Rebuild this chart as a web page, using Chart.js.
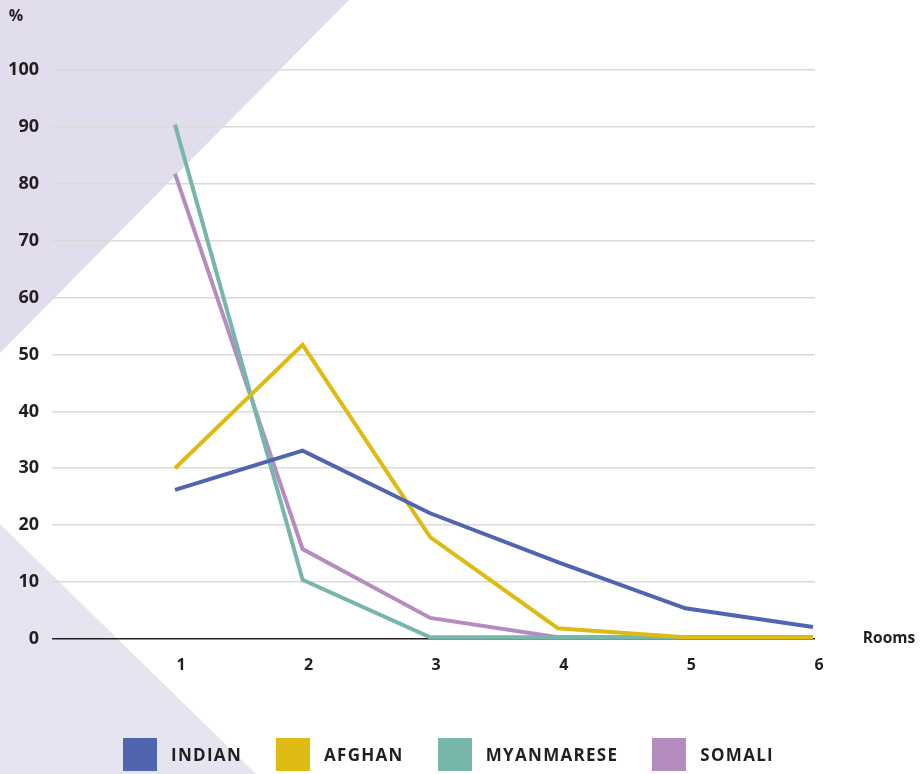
<!DOCTYPE html>
<html>
<head>
<meta charset="utf-8">
<script src="https://cdn.jsdelivr.net/npm/chart.js@4.4.0/dist/chart.umd.min.js"></script>
<style>
  html, body { margin: 0; padding: 0; background: #fff; }
  #wrap { position: relative; width: 924px; height: 774px; overflow: hidden; }
  canvas { position: absolute; left: 0; top: 0; }
  #legend { position: absolute; left: 123px; top: 738px; display: flex; gap: 34px; align-items: center; }
  .item { display: flex; align-items: center; }
  .box { width: 34px; height: 33px; margin-right: 14px; }
  .lbl { font-family: "Open Sans", sans-serif; font-weight: 700; font-size: 17px; letter-spacing: 1.3px; color: #231F20; }
</style>
</head>
<body>
<div id="wrap">
  <canvas id="c" width="924" height="774"></canvas>
  <div id="legend"></div>
</div>
<script>
const rooms = [1, 2, 3, 4, 5, 6];
const yTicks = [0, 10, 20, 30, 40, 50, 60, 70, 80, 90, 100];
const seriesNames = ["INDIAN", "AFGHAN", "MYANMARESE", "SOMALI"];
const seriesColors = ["#5064B0", "#DDBB12", "#77B6AB", "#B68BBF"];
const indian = [26.2, 33.1, 22.1, 13.5, 5.4, 2.1];
const afghan = [30.0, 51.7, 17.9, 1.9, 0.3, 0.3];
const myanmarese = [90.4, 10.4, 0.3, 0.3, 0.3, 0.3];
const somali = [81.8, 15.8, 3.7, 0.3, 0.3, 0.3];
const seriesValues = [indian, afghan, myanmarese, somali];

const FONT = '"Open Sans", sans-serif';
const TEXT = '#231F20';

const datasets = seriesNames.map((name, i) => ({
  label: name,
  data: rooms.map((r, j) => ({ x: r, y: seriesValues[i][j] })),
  borderColor: seriesColors[i],
  backgroundColor: seriesColors[i],
  borderWidth: 4,
  pointRadius: 0,
  tension: 0,
  fill: false
}));

const decor = {
  id: 'decor',
  beforeDraw(chart) {
    const ctx = chart.ctx;
    ctx.save();
    ctx.fillStyle = '#E1DDEC';
    ctx.beginPath();
    ctx.moveTo(0, 0); ctx.lineTo(349, 0); ctx.lineTo(0, 353); ctx.closePath(); ctx.fill();
    ctx.fillStyle = '#E7E4F1';
    ctx.beginPath();
    ctx.moveTo(0, 524); ctx.lineTo(256, 774); ctx.lineTo(0, 774); ctx.closePath(); ctx.fill();
    ctx.restore();
  },
  afterDraw(chart) {
    const ctx = chart.ctx;
    ctx.save();
    ctx.fillStyle = TEXT;
    ctx.font = 'bold 16px ' + FONT;
    ctx.textBaseline = 'middle';
    ctx.textAlign = 'center';
    ctx.fillText('%', 16, 16);
    ctx.font = 'bold 15.5px ' + FONT;
    ctx.fillText('Rooms', 889, 639);
    ctx.restore();
  }
};

new Chart(document.getElementById('c'), {
  type: 'line',
  data: { datasets },
  plugins: [decor],
  options: {
    responsive: false,
    animation: false,
    layout: { padding: { top: 70, right: 109, left: 0, bottom: 0 } },
    plugins: { legend: { display: false }, tooltip: { enabled: false } },
    scales: {
      x: {
        type: 'linear',
        min: 0.036,
        max: 6.016,
        afterBuildTicks(scale) { scale.ticks = rooms.map(v => ({ value: v })); },
        afterFit(scale) { scale.height = 135; },
        grid: { display: false, drawTicks: false },
        border: { display: false },
        ticks: {
          padding: 17,
          labelOffset: 6,
          color: TEXT,
          font: { family: FONT, weight: 'bold', size: 16 },
          callback: v => String(v)
        }
      },
      y: {
        min: 0,
        max: 100,
        afterBuildTicks(scale) { scale.ticks = yTicks.map(v => ({ value: v })); },
        afterFit(scale) { scale.width = 52; },
        grid: {
          drawTicks: false,
          color: ctx => ctx.tick && ctx.tick.value === 0 ? '#231F20' : '#D9D9D9',
          lineWidth: 1.6
        },
        border: { display: false },
        ticks: {
          padding: 13,
          color: TEXT,
          font: { family: FONT, weight: 'bold', size: 18 }
        }
      }
    }
  }
});

const legend = document.getElementById('legend');
seriesNames.forEach((name, i) => {
  const item = document.createElement('div');
  item.className = 'item';
  const box = document.createElement('div');
  box.className = 'box';
  box.style.background = seriesColors[i];
  const lbl = document.createElement('span');
  lbl.className = 'lbl';
  lbl.textContent = name;
  item.appendChild(box); item.appendChild(lbl);
  legend.appendChild(item);
});
</script>
</body>
</html>
